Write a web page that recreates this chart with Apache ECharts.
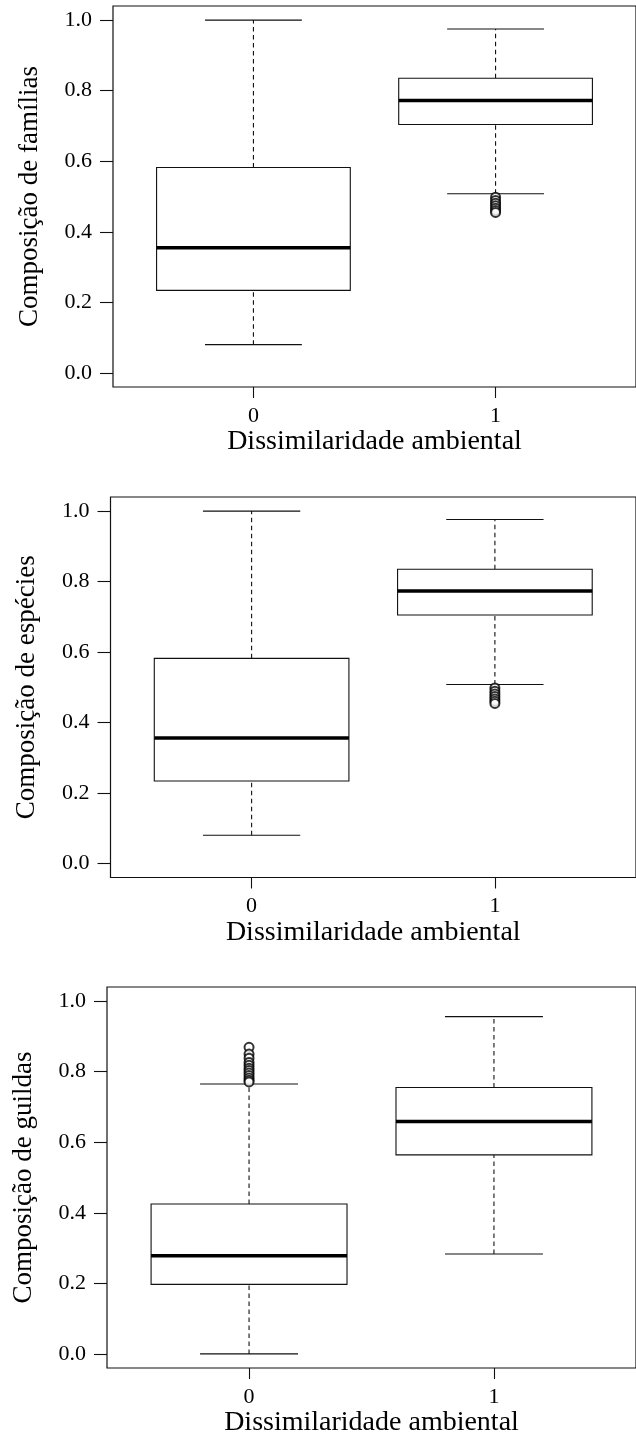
<!DOCTYPE html>
<html lang="pt">
  <head>
    <meta charset="UTF-8" />
    <title>Boxplots dissimilaridade</title>
    <script src="https://cdn.jsdelivr.net/npm/echarts@6.0.0/dist/echarts.min.js"></script>
    <style>
      html, body { margin: 0; padding: 0; background: #fff; }
    </style>
  </head>
  <body>
    <div id="main" style="width: 636px; height: 1446px"></div>
    <script type="text/javascript">
      // categories on the x axis and tick labels on the y axis
      const categories = ['0', '1'];
      const yTicks = [0, 0.2, 0.4, 0.6, 0.8, 1.0];
      const xTitle = 'Dissimilaridade ambiental';
      const yTitles = ['Composição de famílias', 'Composição de espécies', 'Composição de guildas'];

      // box stats per category: [lower whisker, Q1, median, Q3, upper whisker]
      const familiasBox = [[0.080, 0.234, 0.355, 0.582, 1.000], [0.508, 0.704, 0.772, 0.835, 0.975]];
      const especiesBox = [[0.080, 0.234, 0.356, 0.582, 1.000], [0.508, 0.705, 0.773, 0.835, 0.976]];
      const guildasBox = [[0.000, 0.197, 0.278, 0.425, 0.765], [0.283, 0.564, 0.659, 0.755, 0.956]];

      // outliers: [category index, value]
      const familiasOut = [[1, 0.498], [1, 0.489], [1, 0.481], [1, 0.474], [1, 0.467], [1, 0.460], [1, 0.455]];
      const especiesOut = [[1, 0.498], [1, 0.489], [1, 0.481], [1, 0.474], [1, 0.467], [1, 0.460], [1, 0.454]];
      const guildasOut = [[0, 0.869], [0, 0.850], [0, 0.838], [0, 0.826], [0, 0.818], [0, 0.810],
                          [0, 0.803], [0, 0.796], [0, 0.789], [0, 0.782], [0, 0.776], [0, 0.771]];

      const boxes = [familiasBox, especiesBox, guildasBox];
      const outliers = [familiasOut, especiesOut, guildasOut];

      const font = 'Liberation Serif';
      const grids = [
        { left: 113, top: 6, width: 534.5, height: 381 },
        { left: 110.5, top: 497, width: 534, height: 380.5 },
        { left: 107, top: 987, width: 535, height: 381 }
      ];

      let myChart = echarts.init(document.getElementById('main'));

      // R-style box: dashed whiskers, caps, box and thick median
      function renderBox(params, api) {
        const x = api.value(0);
        const lo = api.value(1), q1 = api.value(2), med = api.value(3), q3 = api.value(4), hi = api.value(5);
        const half = api.size([0.8, 0])[0] / 2;
        const capHalf = api.size([0.4, 0])[0] / 2;
        const c = (v) => api.coord([x, v]);
        const pLo = c(lo), pQ1 = c(q1), pMed = c(med), pQ3 = c(q3), pHi = c(hi);
        const cx = pLo[0];
        const solid = { stroke: '#111', lineWidth: 1.1, fill: null };
        const dashed = { stroke: '#111', lineWidth: 1.1, lineDash: [4.5, 3.5], fill: null };
        return {
          type: 'group',
          children: [
            { type: 'line', shape: { x1: cx, y1: pQ3[1], x2: cx, y2: pHi[1] }, style: dashed },
            { type: 'line', shape: { x1: cx, y1: pLo[1], x2: cx, y2: pQ1[1] }, style: dashed },
            { type: 'line', shape: { x1: cx - capHalf, y1: pHi[1], x2: cx + capHalf, y2: pHi[1] }, style: solid },
            { type: 'line', shape: { x1: cx - capHalf, y1: pLo[1], x2: cx + capHalf, y2: pLo[1] }, style: solid },
            {
              type: 'rect',
              shape: { x: cx - half, y: pQ3[1], width: half * 2, height: pQ1[1] - pQ3[1] },
              style: { stroke: '#111', lineWidth: 1.1, fill: '#fff' }
            },
            { type: 'line', shape: { x1: cx - half, y1: pMed[1], x2: cx + half, y2: pMed[1] }, style: { stroke: '#000', lineWidth: 3.5 } }
          ]
        };
      }

      const xAxes = [], yAxes = [], series = [];
      grids.forEach((g, i) => {
        g.show = true;
        g.borderColor = '#111';
        g.borderWidth = 1.2;
        g.backgroundColor = 'transparent';
        xAxes.push({
          type: 'value', gridIndex: i, min: -0.58, max: 1.58,
          axisLine: { show: false, onZero: false },
          splitLine: { show: false },
          axisTick: { show: true, length: 11, customValues: [0, 1], lineStyle: { color: '#111', width: 1.1 } },
          axisLabel: {
            customValues: [0, 1], margin: 18,
            formatter: (v) => categories[Math.round(v)],
            color: '#000', fontFamily: font, fontSize: 22
          },
          name: xTitle, nameLocation: 'middle', nameGap: 41,
          nameTextStyle: { color: '#000', fontFamily: font, fontSize: 28 }
        });
        yAxes.push({
          type: 'value', gridIndex: i, min: -0.04, max: 1.04,
          axisLine: { show: false, onZero: false },
          splitLine: { show: false },
          axisTick: { show: true, length: 13, customValues: yTicks, lineStyle: { color: '#111', width: 1.1 } },
          axisLabel: {
            customValues: yTicks, margin: 21,
            formatter: (v) => v.toFixed(1),
            color: '#000', fontFamily: font, fontSize: 22
          },
          name: yTitles[i], nameLocation: 'middle', nameGap: 70,
          nameTextStyle: { color: '#000', fontFamily: font, fontSize: 27 }
        });
        series.push({
          type: 'custom', xAxisIndex: i, yAxisIndex: i,
          renderItem: renderBox,
          encode: { x: 0, y: [1, 2, 3, 4, 5] },
          data: boxes[i].map((b, k) => [k].concat(b)),
          z: 2
        });
        series.push({
          type: 'scatter', xAxisIndex: i, yAxisIndex: i,
          symbol: 'emptyCircle', symbolSize: 9,
          itemStyle: { color: '#000', borderColor: '#000', borderWidth: 1 },
          data: outliers[i],
          z: 3
        });
      });

      myChart.setOption({
        animation: false,
        backgroundColor: '#fff',
        grid: grids,
        xAxis: xAxes,
        yAxis: yAxes,
        series: series
      });
    </script>
  </body>
</html>
